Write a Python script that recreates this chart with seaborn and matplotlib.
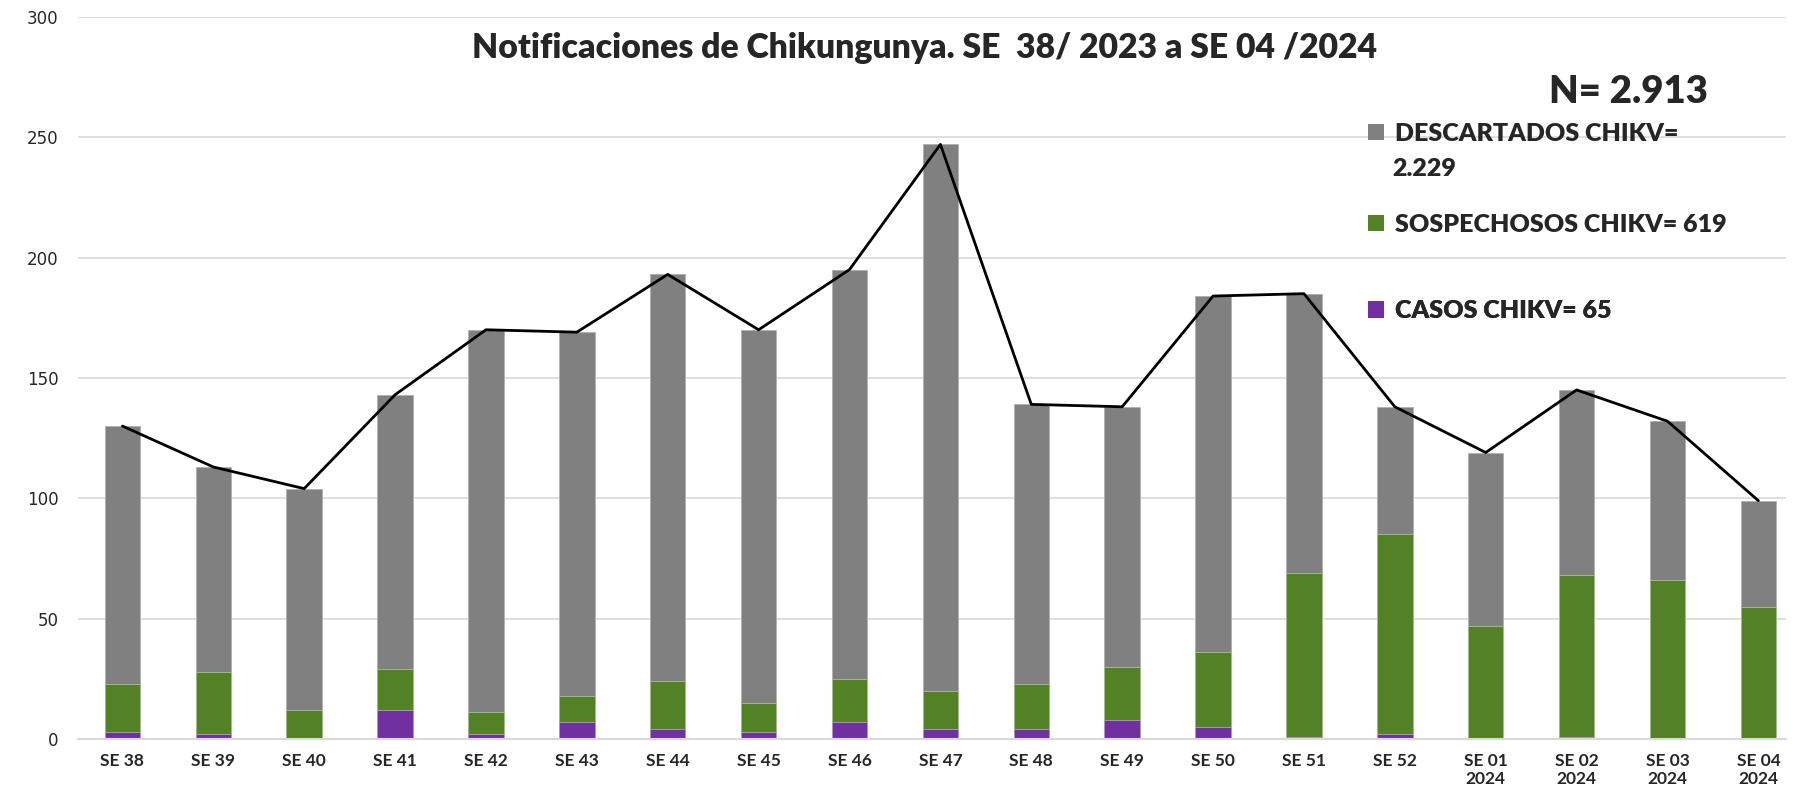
import numpy as np
import pandas as pd
import matplotlib
matplotlib.use("Agg")
import matplotlib.pyplot as plt
from matplotlib.patches import Patch
import seaborn as sns

semanas = ["SE 38", "SE 39", "SE 40", "SE 41", "SE 42", "SE 43", "SE 44",
           "SE 45", "SE 46", "SE 47", "SE 48", "SE 49", "SE 50", "SE 51",
           "SE 52", "SE 01\n2024", "SE 02\n2024", "SE 03\n2024", "SE 04\n2024"]
descartados = [107, 85, 92, 114, 159, 151, 169, 155, 170, 227, 116, 108, 148,
               116, 53, 72, 77, 66, 44]
sospechosos = [20, 26, 12, 17, 9, 11, 20, 12, 18, 16, 19, 22, 31, 68, 83, 47,
               67, 66, 55]
casos = [3, 2, 0, 12, 2, 7, 4, 3, 7, 4, 4, 8, 5, 1, 2, 0, 1, 0, 0]

titulo = "Notificaciones de Chikungunya. SE  38/ 2023 a SE 04 /2024"
n_total = "N= 2.913"
leyenda = ["DESCARTADOS CHIKV=", "SOSPECHOSOS CHIKV= 619", "CASOS CHIKV= 65"]

c_gris = "#808080"
c_verde = "#538126"
c_morado = "#7030a0"

df = pd.DataFrame({"semana": semanas, "descartados": descartados,
                   "sospechosos": sospechosos, "casos": casos})
df["acum_sosp"] = df["sospechosos"] + df["casos"]
df["total"] = df["descartados"] + df["acum_sosp"]

sns.set_style("white")
plt.rcParams["font.family"] = ["Lato", "DejaVu Sans"]

fig = plt.figure(figsize=(18.11, 8.02), dpi=100)
ax = fig.add_axes([0.043, 0.0786, 0.943, 0.9004])

ax.yaxis.grid(True, color="#d9d9d9", linewidth=1.2)
ax.set_axisbelow(True)

ancho = 0.39
sns.barplot(data=df, x="semana", y="total", color=c_gris, width=ancho,
            saturation=1, edgecolor="#b0b0b0", linewidth=0.6, ax=ax)
sns.barplot(data=df, x="semana", y="acum_sosp", color=c_verde, width=ancho,
            saturation=1, edgecolor="#a9c48f", linewidth=0.6, ax=ax)
sns.barplot(data=df, x="semana", y="casos", color=c_morado, width=ancho,
            saturation=1, edgecolor="#b99ad0", linewidth=0.6, ax=ax)

sns.lineplot(x=np.arange(len(df)), y=df["total"], color="black",
             linewidth=2.0, ax=ax)

ax.set_ylim(0, 300)
ax.set_yticks(range(0, 301, 50))
ax.set_xlim(-0.49, 18.3)
ax.set_xlabel("")
ax.set_ylabel("")
for s in ["top", "right", "left"]:
    ax.spines[s].set_visible(False)
ax.spines["bottom"].set_color("#d9d9d9")
ax.spines["bottom"].set_linewidth(1.5)
ax.tick_params(axis="both", length=0)
ax.tick_params(axis="y", pad=14)
ax.tick_params(axis="x", pad=10)
for lab in ax.get_yticklabels():
    lab.set_fontfamily("DejaVu Sans")
    lab.set_fontsize(12)
for lab in ax.get_xticklabels():
    lab.set_fontweight("bold")
    lab.set_fontsize(12.5)

ax.text(0.496, 0.957, titulo, transform=ax.transAxes, ha="center",
        va="center", fontsize=24.3, fontweight="heavy")
ax.text(0.908, 0.896, n_total, transform=ax.transAxes, ha="center",
        va="center", fontsize=27.5, fontweight="heavy")

colores = [c_gris, c_verde, c_morado]
posiciones = [0.838, 0.712, 0.592]
for etiqueta, col, yy in zip(leyenda, colores, posiciones):
    lg = ax.legend(handles=[Patch(facecolor=col, edgecolor="none")],
                   labels=[etiqueta], loc="center left",
                   bbox_to_anchor=(0.742, yy), frameon=False,
                   handlelength=0.65, handleheight=0.65, handletextpad=0.45,
                   prop={"weight": "heavy", "size": 18})
    ax.add_artist(lg)
ax.text(0.7695, 0.789, "2.229", transform=ax.transAxes, ha="left",
        va="center", fontsize=18, fontweight="heavy")

fig.savefig("out.png", dpi=100)
